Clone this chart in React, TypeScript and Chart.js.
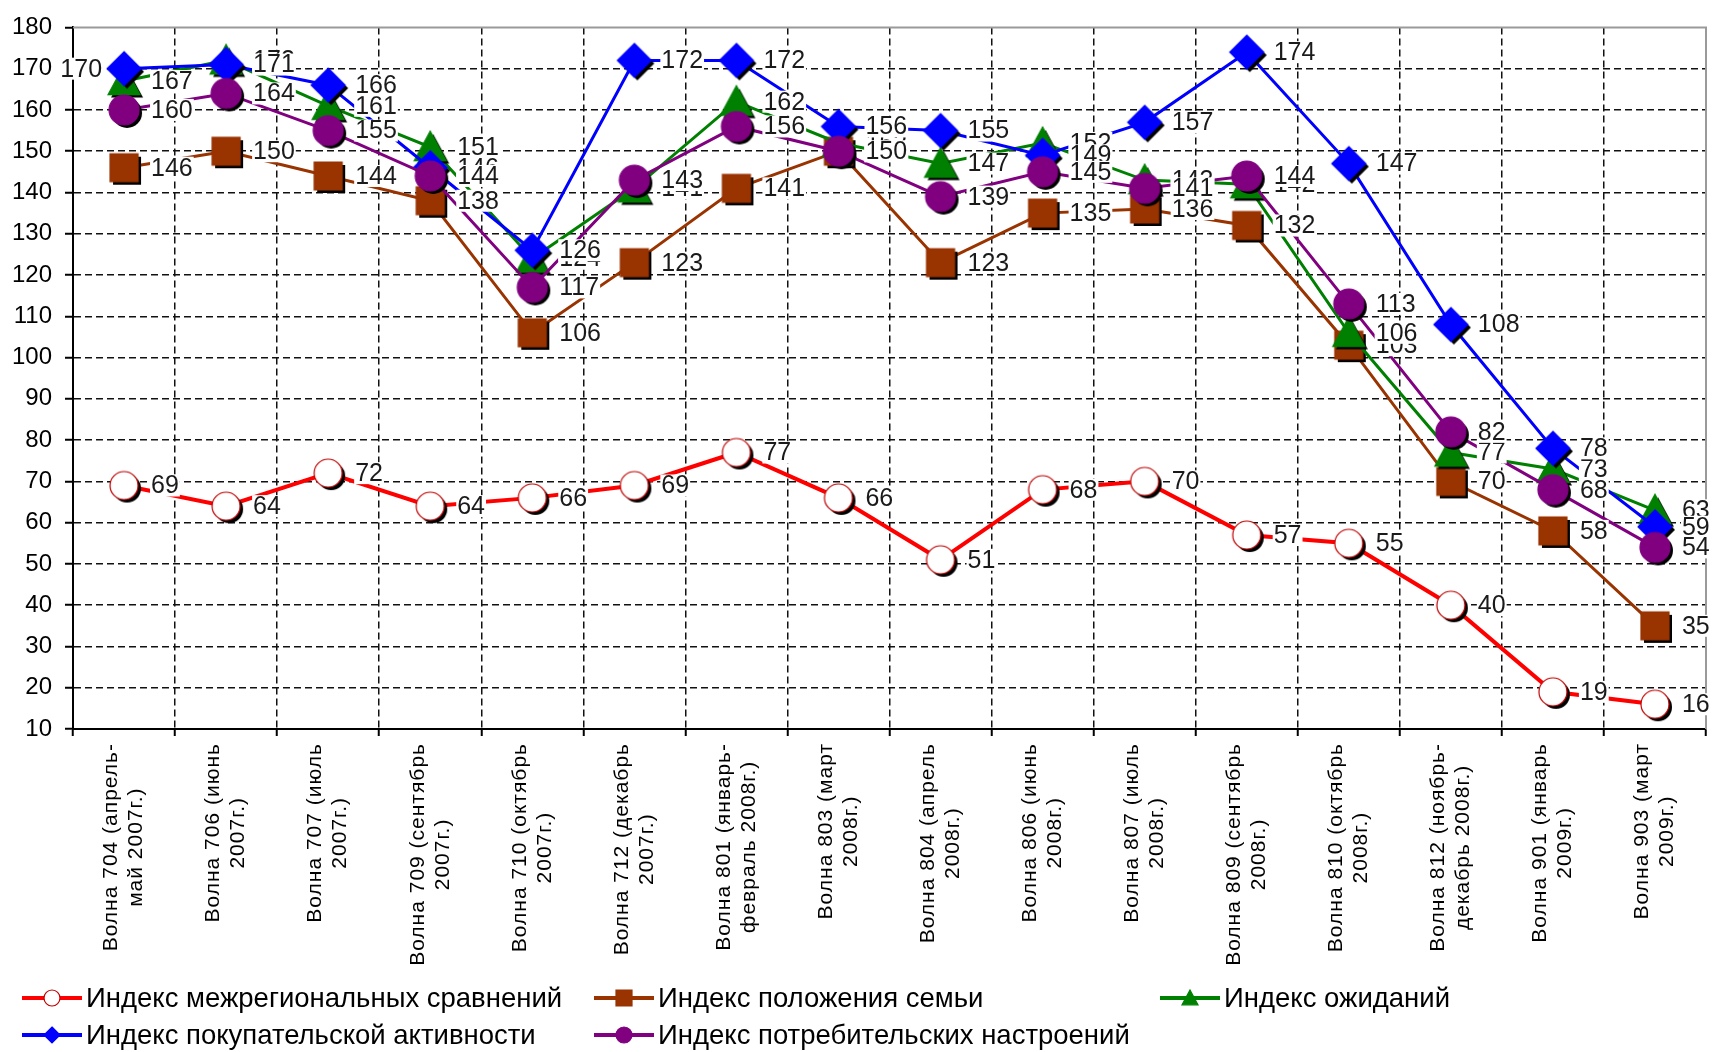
import React, { useEffect, useRef } from 'react';
import { Chart, registerables } from 'chart.js';

Chart.register(...registerables);

// ---------- DATA ----------
const categories: string[][] = [
  ['Волна 704 (апрель-', 'май 2007г.)'],
  ['Волна 706 (июнь', '2007г.)'],
  ['Волна 707 (июль', '2007г.)'],
  ['Волна 709 (сентябрь', '2007г.)'],
  ['Волна 710 (октябрь', '2007г.)'],
  ['Волна 712 (декабрь', '2007г.)'],
  ['Волна 801 (январь-', 'февраль 2008г.)'],
  ['Волна 803 (март', '2008г.)'],
  ['Волна 804 (апрель', '2008г.)'],
  ['Волна 806 (июнь', '2008г.)'],
  ['Волна 807 (июль', '2008г.)'],
  ['Волна 809 (сентябрь', '2008г.)'],
  ['Волна 810 (октябрь', '2008г.)'],
  ['Волна 812 (ноябрь-', 'декабрь 2008г.)'],
  ['Волна 901 (январь', '2009г.)'],
  ['Волна 903 (март', '2009г.)'],
];

const seriesNames: string[] = [
  'Индекс межрегиональных сравнений',
  'Индекс положения семьи',
  'Индекс ожиданий',
  'Индекс покупательской активности',
  'Индекс потребительских настроений',
];

const interregionalIndex: number[] = [69, 64, 72, 64, 66, 69, 77, 66, 51, 68, 70, 57, 55, 40, 19, 16];
const familyPositionIndex: number[] = [146, 150, 144, 138, 106, 123, 141, 150, 123, 135, 136, 132, 103, 70, 58, 35];
const expectationsIndex: number[] = [167, 172, 161, 151, 124, 141, 162, 152, 147, 152, 143, 142, 106, 77, 73, 63];
const purchasingIndex: number[] = [170, 171, 166, 146, 126, 172, 172, 156, 155, 149, 157, 174, 147, 108, 78, 59];
const sentimentIndex: number[] = [160, 164, 155, 144, 117, 143, 156, 150, 139, 145, 141, 144, 113, 82, 68, 54];

const yMin = 10;
const yMax = 180;
const yStep = 10;

// ---------- STYLE ----------
const FONT = '"Liberation Sans", Arial, sans-serif';
type Kind = 'circle' | 'square' | 'triangle' | 'diamond';
const seriesStyles: { color: string; kind: Kind; fill: string; stroke: string; size: number; width: number }[] = [
  { color: '#FF0000', kind: 'circle', fill: '#FFFFFF', stroke: '#C00000', size: 14, width: 4 },
  { color: '#993300', kind: 'square', fill: '#993300', stroke: '#993300', size: 14, width: 3 },
  { color: '#008000', kind: 'triangle', fill: '#008000', stroke: '#008000', size: 16, width: 3 },
  { color: '#0000FF', kind: 'diamond', fill: '#0000FF', stroke: '#0000FF', size: 17, width: 3 },
  { color: '#800080', kind: 'circle', fill: '#800080', stroke: '#800080', size: 15, width: 3 },
];

function shapePath(ctx: CanvasRenderingContext2D, kind: Kind, cx: number, cy: number, s: number) {
  ctx.beginPath();
  if (kind === 'circle') {
    ctx.arc(cx, cy, s, 0, Math.PI * 2);
  } else if (kind === 'square') {
    ctx.rect(cx - s, cy - s, s * 2, s * 2);
  } else if (kind === 'triangle') {
    ctx.moveTo(cx, cy - s);
    ctx.lineTo(cx + s, cy + s * 0.85);
    ctx.lineTo(cx - s, cy + s * 0.85);
    ctx.closePath();
  } else {
    ctx.moveTo(cx, cy - s);
    ctx.lineTo(cx + s, cy);
    ctx.lineTo(cx, cy + s);
    ctx.lineTo(cx - s, cy);
    ctx.closePath();
  }
}

function makeMarker(st: (typeof seriesStyles)[number]): HTMLCanvasElement {
  const S = 52;
  const c = document.createElement('canvas');
  c.width = S;
  c.height = S;
  const ctx = c.getContext('2d')!;
  const cx = S / 2;
  const cy = S / 2;
  ctx.fillStyle = '#000';
  shapePath(ctx, st.kind, cx + 3, cy + 3, st.size);
  ctx.fill();
  ctx.fillStyle = st.fill;
  shapePath(ctx, st.kind, cx, cy, st.size);
  ctx.fill();
  ctx.strokeStyle = st.stroke;
  ctx.lineWidth = 1.2;
  ctx.stroke();
  return c;
}

const seriesData: number[][] = [
  interregionalIndex,
  familyPositionIndex,
  expectationsIndex,
  purchasingIndex,
  sentimentIndex,
];

// label placed to the left for (series, index)
const leftLabels: Record<string, boolean> = { '3-0': true };

const legendSlots = [
  { x: 22, row: 0 },
  { x: 594, row: 0 },
  { x: 1160, row: 0 },
  { x: 22, row: 1 },
  { x: 594, row: 1 },
];
const legendRowsY = [998, 1035];

const framePlugin = {
  id: 'frame',
  beforeDatasetsDraw(chart: any) {
    const { ctx, chartArea } = chart;
    ctx.save();
    ctx.strokeStyle = '#9a9a9a';
    ctx.lineWidth = 2;
    ctx.beginPath();
    ctx.moveTo(chartArea.left, chartArea.top);
    ctx.lineTo(chartArea.right, chartArea.top);
    ctx.lineTo(chartArea.right, chartArea.bottom);
    ctx.stroke();
    ctx.restore();
  },
};

const labelsPlugin = {
  id: 'pointLabels',
  afterDatasetsDraw(chart: any) {
    const { ctx } = chart;
    ctx.save();
    ctx.font = `25px ${FONT}`;
    ctx.textBaseline = 'middle';
    seriesData.forEach((vals, si) => {
      const meta = chart.getDatasetMeta(si);
      vals.forEach((v, i) => {
        const pt = meta.data[i];
        if (!pt) return;
        const txt = String(v);
        const w = ctx.measureText(txt).width;
        const left = leftLabels[`${si}-${i}`] ? pt.x - 22 - w : pt.x + 27;
        ctx.fillStyle = '#FFFFFF';
        ctx.fillRect(left - 1, pt.y - 11, w + 2, 22);
        ctx.fillStyle = '#1a1a1a';
        ctx.textAlign = 'left';
        ctx.fillText(txt, left, pt.y + 1);
      });
    });
    ctx.restore();
  },
};

const categoryPlugin = {
  id: 'categoryLabels',
  afterDraw(chart: any) {
    const { ctx } = chart;
    const xs = chart.scales.x;
    ctx.save();
    ctx.font = `21px ${FONT}`;
    try {
      (ctx as any).letterSpacing = '1px';
    } catch (e) {}
    ctx.fillStyle = '#000';
    ctx.textBaseline = 'middle';
    ctx.textAlign = 'center';
    const top = chart.chartArea.bottom + 14;
    categories.forEach((lines, i) => {
      const x = xs.getPixelForValue(i);
      const widths = lines.map((l) => ctx.measureText(l).width);
      const mw = Math.max(...widths);
      const lh = 25;
      ctx.save();
      ctx.translate(x, top);
      ctx.rotate(-Math.PI / 2);
      lines.forEach((l, li) => {
        const yy = (li - (lines.length - 1) / 2) * lh;
        ctx.fillText(l, -mw / 2, yy);
      });
      ctx.restore();
    });
    ctx.restore();

    // legend
    ctx.save();
    ctx.font = `27.5px ${FONT}`;
    ctx.textBaseline = 'middle';
    ctx.textAlign = 'left';
    seriesNames.forEach((name, si) => {
      const slot = legendSlots[si];
      const y = legendRowsY[slot.row];
      const st = seriesStyles[si];
      ctx.strokeStyle = st.color;
      ctx.lineWidth = 4;
      ctx.beginPath();
      ctx.moveTo(slot.x, y);
      ctx.lineTo(slot.x + 60, y);
      ctx.stroke();
      ctx.fillStyle = st.fill;
      shapePath(ctx, st.kind, slot.x + 30, y, 8);
      ctx.fill();
      ctx.strokeStyle = st.stroke;
      ctx.lineWidth = 1.2;
      ctx.stroke();
      ctx.fillStyle = '#000';
      ctx.fillText(name, slot.x + 64, y + 1);
    });
    ctx.restore();
  },
};

export default function App() {
  const ref = useRef<HTMLCanvasElement | null>(null);

  useEffect(() => {
    if (!ref.current) return;
    const markers = seriesStyles.map((s) => makeMarker(s));
    const chart = new Chart(ref.current, {
      type: 'line',
      data: {
        labels: categories.map((c) => c.join(' ')),
        datasets: seriesData.map((vals, si) => ({
          label: seriesNames[si],
          data: vals,
          borderColor: seriesStyles[si].color,
          backgroundColor: seriesStyles[si].color,
          borderWidth: seriesStyles[si].width,
          pointStyle: markers[si] as any,
          pointRadius: 15,
          pointHoverRadius: 15,
          tension: 0,
          fill: false,
          clip: false as any,
          order: 4 - si,
        })),
      },
      options: {
        responsive: false,
        animation: false,
        events: [],
        layout: { padding: { top: 19, right: 9, left: 0, bottom: 0 } },
        plugins: {
          legend: { display: false },
          tooltip: { enabled: false },
          title: { display: false },
        },
        scales: {
          x: {
            type: 'category',
            offset: true,
            grid: {
              offset: true,
              color: (c: any) => (c.index === 0 || c.index >= categories.length ? 'rgba(0,0,0,0)' : '#111'),
              lineWidth: 1.5,
              drawTicks: true,
              tickLength: 7,
              tickColor: '#000',
              tickWidth: 2,
            },
            border: { display: true, color: '#000', width: 2, dash: [7, 4] },
            ticks: { display: false },
            afterFit: (scale: any) => {
              scale.height = 323;
            },
          },
          y: {
            min: yMin,
            max: yMax,
            ticks: {
              stepSize: yStep,
              color: '#000',
              font: { family: FONT, size: 24 },
              padding: 13,
            },
            grid: {
              color: (c: any) =>
                c.tick && (c.tick.value === yMax || c.tick.value === yMin) ? 'rgba(0,0,0,0)' : '#111',
              lineWidth: 1.5,
              tickLength: 8,
              tickColor: '#000',
              tickWidth: 2,
            },
            border: { display: true, color: '#000', width: 2, dash: [7, 4] },
            afterFit: (scale: any) => {
              scale.width = 73;
            },
          },
        },
      },
      plugins: [framePlugin, labelsPlugin, categoryPlugin],
    });
    return () => chart.destroy();
  }, []);

  return (
    <div style={{ position: 'absolute', left: 0, top: 0, width: 1725, height: 1052, background: '#fff' }}>
      <canvas ref={ref} width={1725} height={1052} style={{ display: 'block', width: 1725, height: 1052 }} />
    </div>
  );
}
